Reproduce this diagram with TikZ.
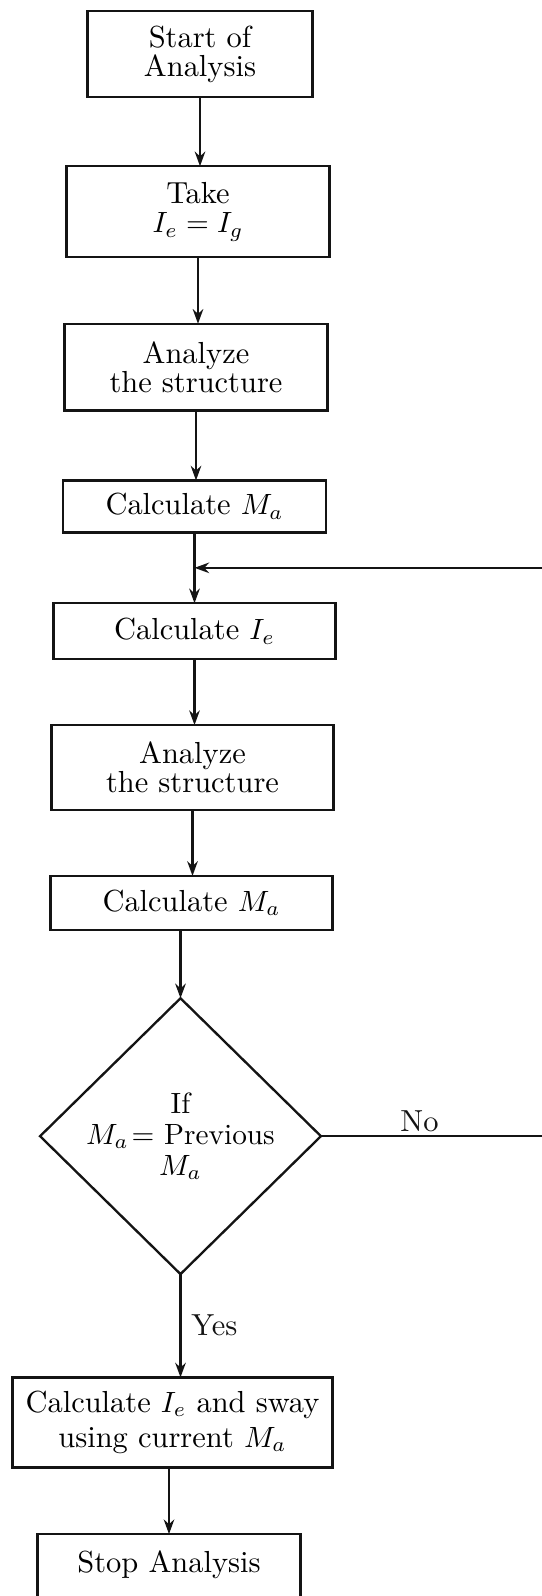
\documentclass[tikz,border=0pt]{standalone}
\usepackage{tikz}
\usetikzlibrary{shapes.geometric, arrows.meta, positioning}
\usepackage{amsmath}
\definecolor{inkline}{RGB}{20,20,20}
\tikzset{
  stepbox/.style={rectangle, draw=inkline, line width=0.8pt, minimum width=3.16cm,
    minimum height=1.04cm, align=center, inner sep=2pt, outer sep=0pt,
    font=\fontsize{10.4}{10}\selectfont},
  decision/.style={diamond, draw=inkline, line width=0.8pt, minimum width=3.37cm,
    minimum height=3.31cm, aspect=1.03, inner sep=0pt, outer sep=0pt, align=center,
    font=\fontsize{10}{10.6}\selectfont},
  arrow/.style={-{Stealth[length=5pt, width=3.6pt]}, line width=0.8pt, color=inkline},
  lbl/.style={font=\fontsize{10.4}{12}\selectfont, text=inkline},
}

\begin{document}
\begin{tikzpicture}[node distance=0.8cm]
  \useasboundingbox (0,0) rectangle (6.492,-19.152);
  \node[stepbox, minimum width=2.7cm, minimum height=1.03cm]
    (start) at (2.4,-0.65) {Start of\\Analysis};
  \node[stepbox, below=0.83cm of start, xshift=-0.024cm, minimum width=3.156cm, minimum height=1.09cm]
    (take) {Take\\$I_e = I_g$};
  \node[stepbox, below=0.80cm of take, xshift=-0.024cm]
    (anlz1) {Analyze\\the structure};
  \node[stepbox, below=0.84cm of anlz1, xshift=-0.018cm, minimum height=0.624cm]
    (calcma1) {Calculate $M_a$};
  \node[stepbox, below=0.85cm of calcma1, minimum width=3.384cm, minimum height=0.672cm]
    (calcie) {Calculate $I_e$};
  \node[stepbox, below=0.79cm of calcie, xshift=-0.024cm, minimum width=3.384cm, minimum height=1.02cm]
    (anlz2) {Analyze\\the structure};
  \node[stepbox, below=0.79cm of anlz2, xshift=-0.012cm, minimum width=3.384cm, minimum height=0.648cm]
    (calcma2) {Calculate $M_a$};
  \node[decision, below=0.82cm of calcma2, xshift=-0.132cm]
    (check) {If\\$M_a$\kern1pt= Previous\\$M_a$};
  \node[stepbox, below=1.24cm of check, xshift=-0.096cm, minimum width=3.84cm, minimum height=1.08cm]
    (sway) {Calculate $I_e$ and sway\\[2pt]using current $M_a$};
  \node[stepbox, below=0.80cm of sway, xshift=-0.042cm, minimum height=0.9cm, text depth=7pt]
    (stop) {Stop Analysis};

  \draw[arrow] (start.south) -- (start.south |- take.north);
  \draw[arrow] (take.south) -- (take.south |- anlz1.north);
  \draw[arrow] (anlz1.south) -- (anlz1.south |- calcma1.north);
  \draw[arrow] (calcma1.south) -- (calcma1.south |- calcie.north) coordinate[pos=0.5] (join);
  \draw[arrow] (calcie.south) -- (calcie.south |- anlz2.north);
  \draw[arrow] (anlz2.south) -- (anlz2.south |- calcma2.north);
  \draw[arrow] (check.north |- calcma2.south) -- (check.north);
  \draw[arrow] (check.south) -- (check.south |- sway.north)
    node[lbl, midway, right] {Yes};
  \draw[arrow] (stop.north |- sway.south) -- (stop.north);
  % loop back when the moment has changed
  \draw[arrow] (check.east) -- ++(2.75,0) node[lbl, pos=0.43, above, inner sep=1pt] {No} |- (join);
\end{tikzpicture}
\end{document}
